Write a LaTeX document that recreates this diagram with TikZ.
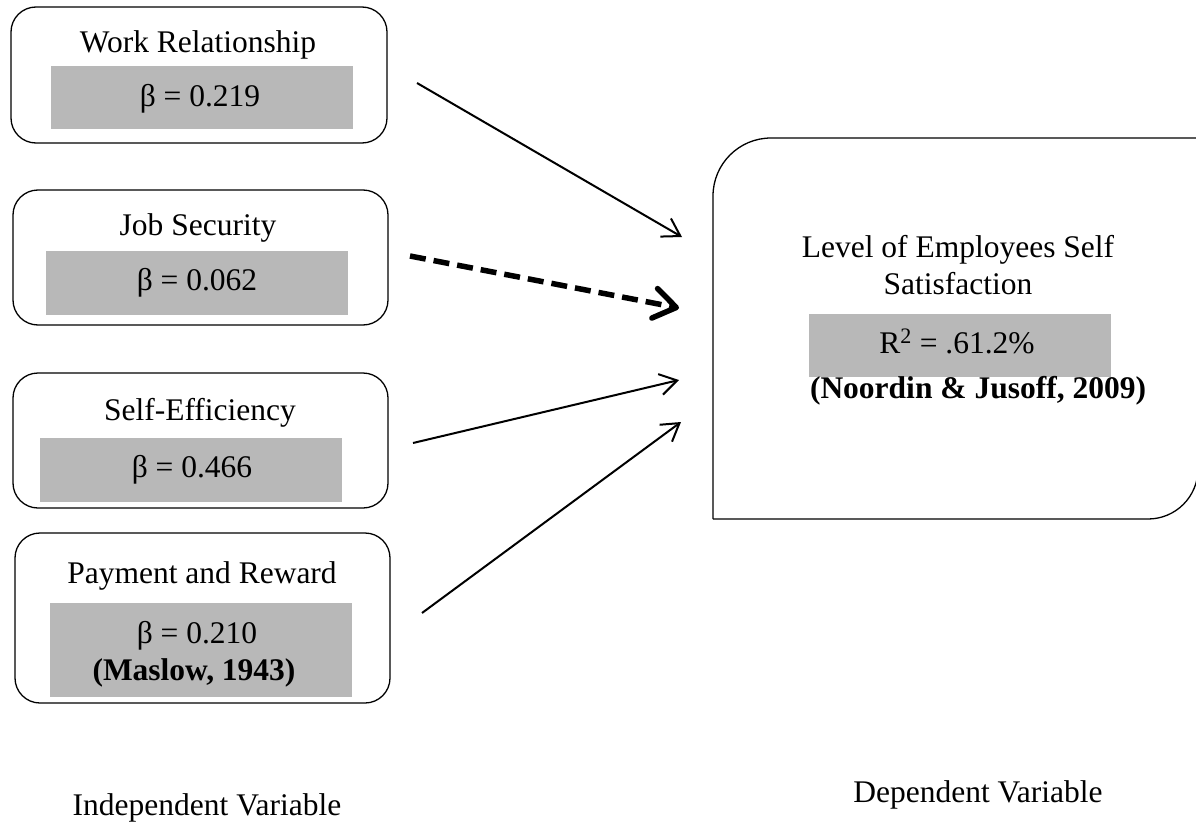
\documentclass[tikz,border=0pt]{standalone}
\usepackage{fontspec}
\setmainfont{Liberation Serif}
\usetikzlibrary{arrows.meta}
\definecolor{boxgray}{RGB}{184,184,184}
\begin{document}
\begin{tikzpicture}[x=1pt,y=-1pt,
  txt/.style={font=\fontsize{31.5}{38}\selectfont, inner sep=0pt, anchor=base},
  btxt/.style={txt, font=\fontsize{31.5}{38}\selectfont\bfseries},
  ivbox/.style={draw=black, line width=1.3pt, rounded corners=25pt, inner sep=0pt},
  graybox/.style={fill=boxgray, inner sep=0pt},
  conn/.style={line width=2pt, -{Straight Barb[length=17pt,width=21pt]}},
  dconn/.style={line width=5.5pt, dash pattern=on 16pt off 8pt,
     -{Straight Barb[length=22pt,width=30pt,line cap=round,line join=round]}}]
\useasboundingbox (0,0) rectangle (1196,824);
\fill[white] (0,0) rectangle (1196,824);

% independent variable boxes
\node[ivbox, minimum width=376pt, minimum height=136pt] (wr) at (199,75) {};
\node[graybox, minimum width=302pt, minimum height=63pt] (wrg) at (202,97.5) {};
\node[txt] (wrt) at (198,53) {Work Relationship};
\node[txt] (wrb) at (200,107) {β = 0.219};

\node[ivbox, minimum width=375pt, minimum height=135pt] (js) at (200.5,257.5) {};
\node[graybox, minimum width=302pt, minimum height=64pt] (jsg) at (197,283) {};
\node[txt] (jst) at (198,235) {Job Security};
\node[txt] (jsb) at (197,290) {β = 0.062};

\node[ivbox, minimum width=375pt, minimum height=135pt] (se) at (200.5,440.5) {};
\node[graybox, minimum width=302pt, minimum height=64pt] (seg) at (191,470) {};
\node[txt] (set) at (200,420) {Self-Efficiency};
\node[txt] (seb) at (192,477) {β = 0.466};

\node[ivbox, minimum width=375pt, minimum height=170pt] (pr) at (202.5,618) {};
\node[graybox, minimum width=302pt, minimum height=94pt] (prg) at (201,650) {};
\node[txt] (prt) at (202,583) {Payment and Reward};
\node[txt] (prb) at (197,643) {β = 0.210};
\node[btxt] (prc) at (194,680) {(Maslow, 1943)};

% dependent variable box
\draw[line width=1.3pt] (713,519) -- (713,196)
  arc[start angle=180, end angle=90, radius=58pt] -- (1240,138);
\draw[line width=1.3pt] (713,519) -- (1148,519)
  arc[start angle=90, end angle=0, x radius=50pt, y radius=-50pt] -- (1198,100);
\node[graybox, minimum width=302pt, minimum height=63pt] (dvg) at (960,345.5) {};
\node[txt] (dvt1) at (958,257) {Level of Employees Self};
\node[txt] (dvt2) at (958,294) {Satisfaction};
\node[txt] (dvr) at (957,353) {R\textsuperscript{2} = .61.2\%};
\node[btxt] (dvc) at (978,398) {(Noordin \& Jusoff, 2009)};

% labels
\node[txt] (iv) at (207,815) {Independent Variable};
\node[txt] (dv) at (978,802) {Dependent Variable};

% connectors
\coordinate (a1s) at (417,83);   \coordinate (a1e) at (682,237);
\coordinate (a2s) at (410,256);  \coordinate (a2e) at (679,308);
\coordinate (a3s) at (413,443);  \coordinate (a3e) at (679,380);
\coordinate (a4s) at (422,613);  \coordinate (a4e) at (681,422);
\draw[conn] (a1s) -- (a1e);
\draw[dconn] (a2s) -- (a2e);
\draw[conn] (a3s) -- (a3e);
\draw[conn] (a4s) -- (a4e);
\end{tikzpicture}
\end{document}
